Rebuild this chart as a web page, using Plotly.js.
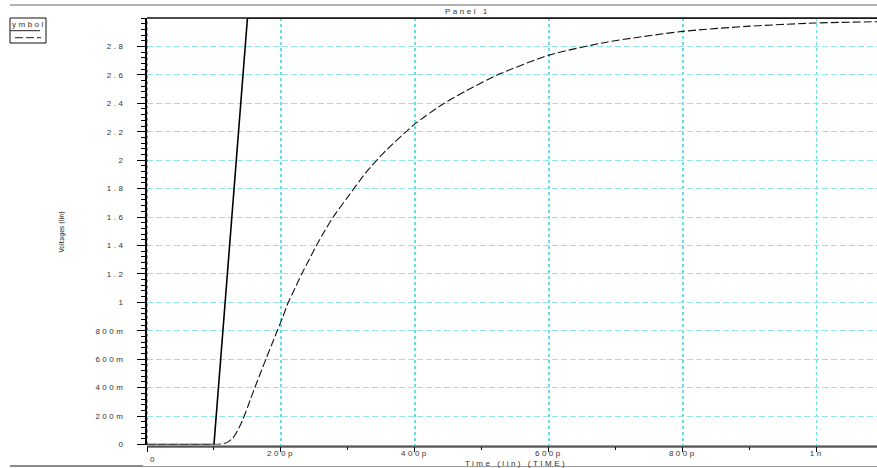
<!DOCTYPE html>
<html>
<head>
<meta charset="utf-8">
<script src="https://cdn.plot.ly/plotly-3.0.1.min.js"></script>
<style>
  html, body { margin: 0; padding: 0; background: #fff; }
  #chart { width: 877px; height: 468px; }
  text { letter-spacing: 2.5px; }
  .annotation[data-index="0"] text { letter-spacing: 0px; }
</style>
</head>
<body>
<div id="chart"></div>
<script>
// ---- data (time in ps, voltage in V) ----
var inTime = [0, 100, 150, 1090];
var inVolt = [0, 0, 3, 3];

var outTime = [0, 100, 111, 120, 128, 135, 143, 150, 155, 161, 170, 177.5, 186, 194.5, 203, 211, 221, 231, 242, 253, 265, 278, 298, 328, 353, 400, 442, 477, 527, 600, 686, 800, 895, 998, 1090];
var outVolt = [0, 0, 0.003, 0.015, 0.045, 0.095, 0.175, 0.26, 0.325, 0.4, 0.51, 0.6, 0.7, 0.8, 0.9, 1.0, 1.1, 1.2, 1.3, 1.4, 1.5, 1.6, 1.73, 1.92, 2.05, 2.255, 2.395, 2.49, 2.607, 2.739, 2.83, 2.906, 2.941, 2.965, 2.974];

var xTickVals = [0, 200, 400, 600, 800, 1000];
var xTickText = ['', '200p', '400p', '600p', '800p', '1n'];
var yTickVals = [0, 0.2, 0.4, 0.6, 0.8, 1, 1.2, 1.4, 1.6, 1.8, 2, 2.2, 2.4, 2.6, 2.8];
var yTickText = ['0', '200m', '400m', '600m', '800m', '1', '1.2', '1.4', '1.6', '1.8', '2', '2.2', '2.4', '2.6', '2.8'];

// ---- layout helpers (pixel -> paper) ----
var W = 877, H = 468;
function px(x) { return x / W; }
function py(y) { return 1 - y / H; }
var tickFont = {family: 'Liberation Sans, Arial, sans-serif', size: 8, color: '#333'};

var traces = [
  {x: inTime, y: inVolt, mode: 'lines', line: {color: '#000', width: 1.6}, hoverinfo: 'skip'},
  {x: outTime, y: outVolt, mode: 'lines', line: {color: '#111', width: 1.1, dash: '8px,3px', shape: 'spline', smoothing: 0.6}, hoverinfo: 'skip'}
];

var layout = {
  width: W, height: H,
  margin: {l: 0, r: 0, t: 0, b: 0},
  paper_bgcolor: '#fff', plot_bgcolor: '#fff',
  showlegend: false,
  xaxis: {
    domain: [px(147), 1], range: [0, 1090],
    tickvals: xTickVals, ticktext: xTickText, tickfont: tickFont,
    showgrid: true, gridcolor: '#6cdde2', griddash: 'dot', gridwidth: 1.5,
    ticks: 'outside', ticklen: 5, tickcolor: '#000', tickwidth: 1,
    ticklabelstandoff: -5,
    showline: true, linecolor: '#9a9a9a', linewidth: 2,
    zeroline: false, fixedrange: true,
    minor: {tick0: 0, dtick: 100, ticks: 'outside', ticklen: 3, tickcolor: '#000', showgrid: false}
  },
  yaxis: {
    domain: [py(444.5), py(18)], range: [0, 3],
    anchor: 'free', position: px(145),
    tickvals: yTickVals, ticktext: yTickText, tickfont: tickFont,
    showgrid: true, gridcolor: '#93e6e8', griddash: '6px,3px', gridwidth: 1,
    ticks: 'outside', ticklen: 8, tickcolor: '#000', tickwidth: 1,
    ticklabelstandoff: 10,
    showline: true, linecolor: '#000', linewidth: 1.5,
    zeroline: false, fixedrange: true,
    minor: {tick0: 0, dtick: 0.04, ticks: 'outside', ticklen: 4, tickcolor: '#000', showgrid: false}
  },
  shapes: [
    {type: 'line', xref: 'paper', yref: 'paper', x0: px(10), x1: 1, y0: py(5), y1: py(5), line: {color: '#9a9a9a', width: 1.5}},
    {type: 'line', xref: 'paper', yref: 'paper', x0: px(147), x1: 1, y0: py(18), y1: py(18), line: {color: '#111', width: 1.5}},
    {type: 'line', xref: 'x', yref: 'paper', x0: 0, x1: 0, y0: py(444.5), y1: py(18), line: {color: '#2f8f92', width: 1.5, dash: 'dot'}},
    {type: 'line', xref: 'paper', yref: 'paper', x0: px(147), x1: 1, y0: py(447), y1: py(447), line: {color: '#111', width: 1}},
    {type: 'line', xref: 'paper', yref: 'paper', x0: px(10), x1: 1, y0: py(466.5), y1: py(466.5), line: {color: '#9a9a9a', width: 1.2}},
    {type: 'line', xref: 'paper', yref: 'paper', x0: px(10), x1: px(143), y0: py(466), y1: py(466), line: {color: '#8a8a8a', width: 2}},
    {type: 'rect', xref: 'paper', yref: 'paper', x0: px(10), x1: px(46), y0: py(43), y1: py(18), line: {color: '#111', width: 1}},
    {type: 'line', xref: 'paper', yref: 'paper', x0: px(10), x1: px(40), y0: py(30.7), y1: py(30.7), line: {color: '#222', width: 1}},
    {type: 'line', xref: 'paper', yref: 'paper', x0: px(15), x1: px(41), y0: py(37.7), y1: py(37.7), line: {color: '#222', width: 1, dash: '8px,3px'}}
  ],
  annotations: [
    {text: 'Voltages (lin)', xref: 'paper', yref: 'paper', x: px(62), y: py(232), textangle: -90, showarrow: false,
     xanchor: 'center', yanchor: 'middle', font: {family: 'DejaVu Sans Condensed, Liberation Sans Narrow, sans-serif', size: 7, color: '#222'}},
    {text: 'Panel 1', xref: 'paper', yref: 'paper', x: px(467), y: py(11.5), showarrow: false,
     xanchor: 'center', yanchor: 'middle', font: tickFont},
    {text: 'Time (lin) (TIME)', xref: 'paper', yref: 'paper', x: px(516), y: py(463.5), showarrow: false,
     xanchor: 'center', yanchor: 'middle', font: tickFont},
    {text: '0', xref: 'paper', yref: 'paper', x: px(153), y: py(459), showarrow: false,
     xanchor: 'center', yanchor: 'middle', font: tickFont},
    {text: 'ymbol', xref: 'paper', yref: 'paper', x: px(10), y: py(24), showarrow: false,
     xanchor: 'left', yanchor: 'middle', font: tickFont}
  ]
};

Plotly.newPlot('chart', traces, layout, {displayModeBar: false, staticPlot: true});
</script>
</body>
</html>
